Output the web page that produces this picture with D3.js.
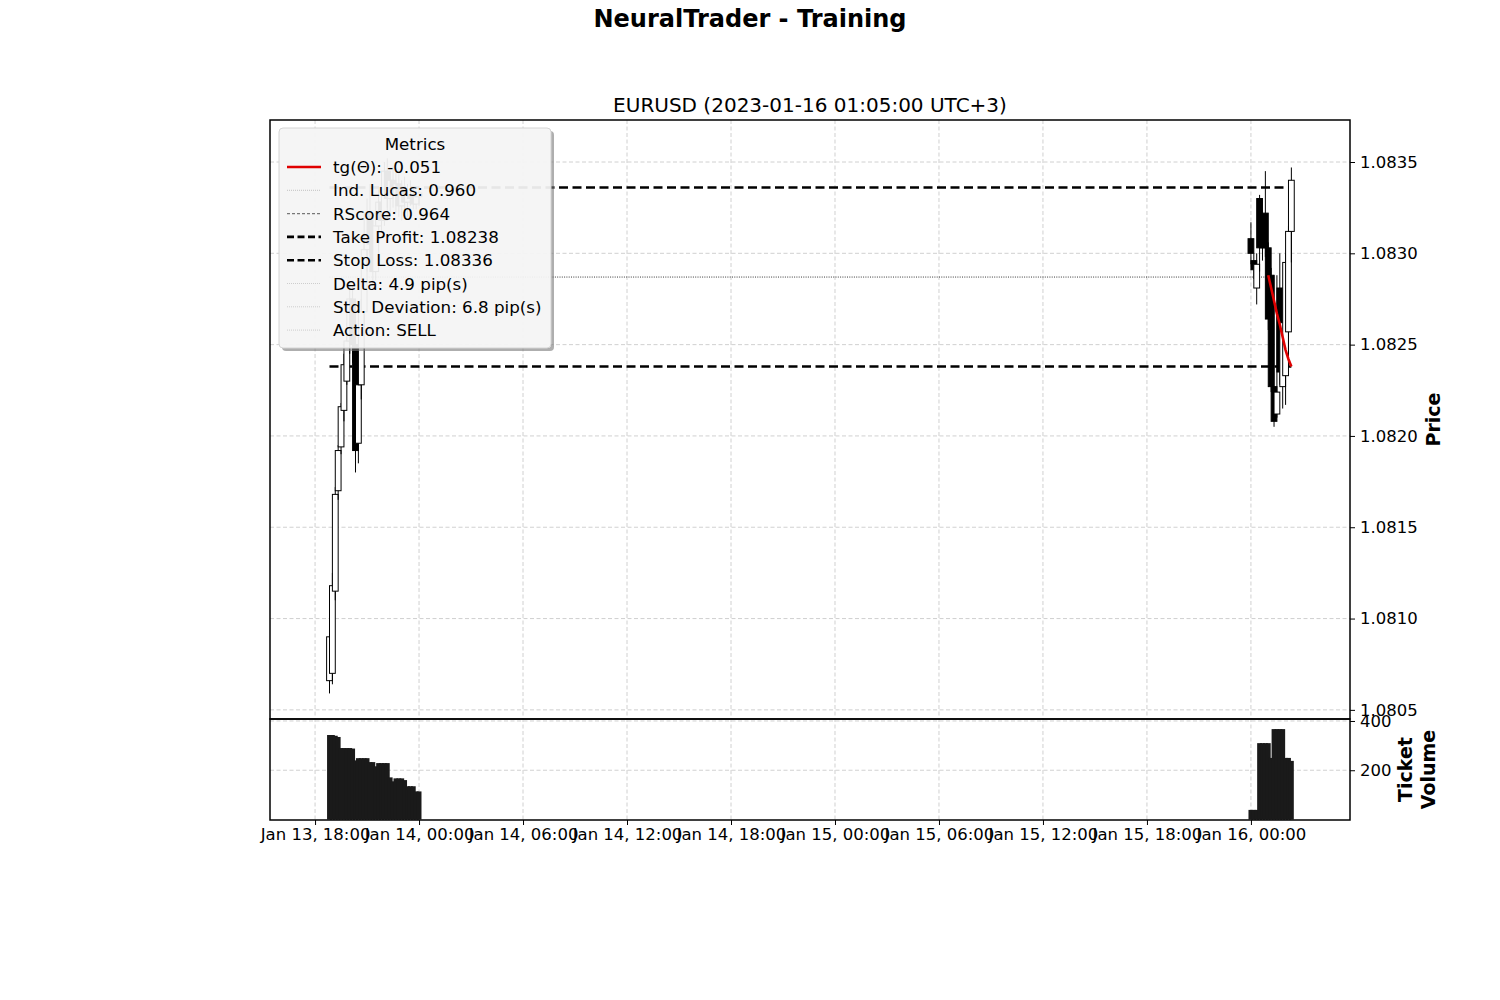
<!DOCTYPE html>
<html><head><meta charset="utf-8">
<script src="https://cdn.jsdelivr.net/npm/d3@7"></script>
<style>body{margin:0;background:#fff;} svg{font-family:"DejaVu Sans",sans-serif;}</style>
</head><body><svg id="c" width="1500" height="1000"></svg>
<script>
// ---------- data ----------
const times = [
 "2023-01-13T18:50","2023-01-13T19:00","2023-01-13T19:10","2023-01-13T19:20","2023-01-13T19:30","2023-01-13T19:40",
 "2023-01-13T19:50","2023-01-13T20:00","2023-01-13T20:10","2023-01-13T20:20","2023-01-13T20:30","2023-01-13T20:40",
 "2023-01-13T20:50","2023-01-13T21:00","2023-01-13T21:10","2023-01-13T21:20","2023-01-13T21:30","2023-01-13T21:40",
 "2023-01-13T21:50","2023-01-13T22:00","2023-01-13T22:10","2023-01-13T22:20","2023-01-13T22:30","2023-01-13T22:40",
 "2023-01-13T22:50","2023-01-13T23:00","2023-01-13T23:10","2023-01-13T23:20","2023-01-13T23:30","2023-01-13T23:40",
 "2023-01-13T23:50","2023-01-14T00:00",
 "2023-01-16T00:00","2023-01-16T00:10","2023-01-16T00:20","2023-01-16T00:30","2023-01-16T00:40","2023-01-16T00:50",
 "2023-01-16T01:00","2023-01-16T01:10","2023-01-16T01:20","2023-01-16T01:30","2023-01-16T01:40","2023-01-16T01:50",
 "2023-01-16T02:00","2023-01-16T02:10","2023-01-16T02:20"
];
const opens = [
 1.08066,1.08070,1.08115,1.08170,1.08194,1.08214,1.08230,1.08252,1.08275,1.08250,1.08196,1.08228,
 1.08268,1.08302,1.08322,1.08305,1.08290,1.08315,1.08328,1.08318,1.08345,1.08330,1.08340,1.08332,
 1.08338,1.08326,1.08335,1.08328,1.08332,1.08330,1.08327,1.08331,
 1.08308,1.08296,1.08281,1.08330,1.08314,1.08322,1.08303,1.08288,1.08227,1.08212,1.08281,1.08227,
 1.08233,1.08257,1.08312
];
const highs = [
 1.08097,1.08125,1.08172,1.08195,1.08218,1.08245,1.08262,1.08285,1.08282,1.08255,1.08235,1.08275,
 1.08310,1.08330,1.08338,1.08318,1.08320,1.08335,1.08342,1.08350,1.08352,1.08345,1.08348,1.08345,
 1.08346,1.08340,1.08342,1.08338,1.08340,1.08336,1.08334,1.08336,
 1.08317,1.08300,1.08300,1.08332,1.08320,1.08345,1.08306,1.08292,1.08288,1.08288,1.08300,1.08270,
 1.08300,1.08315,1.08347
];
const lows = [
 1.08059,1.08064,1.08110,1.08165,1.08190,1.08208,1.08228,1.08245,1.08240,1.08180,1.08185,1.08220,
 1.08260,1.08290,1.08300,1.08282,1.08285,1.08305,1.08312,1.08315,1.08325,1.08320,1.08325,1.08322,
 1.08320,1.08318,1.08322,1.08320,1.08326,1.08324,1.08324,1.08326,
 1.08294,1.08286,1.08272,1.08290,1.08296,1.08298,1.08258,1.08224,1.08205,1.08210,1.08228,1.08215,
 1.08217,1.08240,1.08295
];
const closes = [
 1.08090,1.08118,1.08168,1.08192,1.08216,1.08239,1.08252,1.08275,1.08250,1.08192,1.08228,1.08268,
 1.08302,1.08322,1.08305,1.08290,1.08315,1.08328,1.08318,1.08345,1.08330,1.08340,1.08332,1.08338,
 1.08326,1.08335,1.08328,1.08332,1.08330,1.08327,1.08331,1.08333,
 1.08300,1.08291,1.08294,1.08303,1.08303,1.08303,1.08264,1.08227,1.08208,1.08224,1.08235,1.08262,
 1.08295,1.08312,1.08340
];
const volumes = [
 343,343,340,335,290,290,290,290,288,240,249,249,
 249,249,233,233,216,229,229,229,229,171,155,167,
 167,167,160,135,135,135,114,114,
 39,39,39,310,310,310,310,250,367,367,367,367,
 250,250,238
];
const trendTimes = ["2023-01-16T01:00","2023-01-16T01:10","2023-01-16T01:20","2023-01-16T01:30","2023-01-16T01:40",
 "2023-01-16T01:50","2023-01-16T02:00","2023-01-16T02:10","2023-01-16T02:20"];
const trendValues = [1.08288,1.08281,1.08274,1.08267,1.08261,1.08254,1.08247,1.08242,1.08238];
const takeProfit = 1.08238, stopLoss = 1.08336, lucasLevel = 1.08287, lucasEnd = "2023-01-16T01:00";
const priceTicks = [1.0805,1.0810,1.0815,1.0820,1.0825,1.0830,1.0835];
const volumeTicks = [200,400];
const xDomain = ["2023-01-13T15:24","2023-01-16T05:43"];
const priceDomain = [1.08045,1.08373];
const volumeDomain = [0,408];
const legendItems = [
 {label:"tg(\u0398): -0.051", color:"#e00000", width:2.6, dash:null},
 {label:"Ind. Lucas: 0.960", color:"#aaaaaa", width:0.7, dash:"1,1"},
 {label:"RScore: 0.964", color:"#777777", width:1.1, dash:"3,2"},
 {label:"Take Profit: 1.08238", color:"#000", width:2.6, dash:"7,3.5"},
 {label:"Stop Loss: 1.08336", color:"#000", width:2.6, dash:"7,3.5"},
 {label:"Delta: 4.9 pip(s)", color:"#bbbbbb", width:0.7, dash:"1,1"},
 {label:"Std. Deviation: 6.8 pip(s)", color:"#bbbbbb", width:0.7, dash:"1,1"},
 {label:"Action: SELL", color:"#bbbbbb", width:0.7, dash:"1,1"}
];

// ---------- setup ----------
const P = s => new Date(s + ":00Z");
const svg = d3.select("#c");
const L = 270, R = 1350, T = 120, MID = 719, B = 820;
const x = d3.scaleUtc().domain(xDomain.map(P)).range([L, R]);
const y = d3.scaleLinear().domain(priceDomain).range([MID, T]);
const yv = d3.scaleLinear().domain(volumeDomain).range([819.5, MID]);
const data = times.map((t,i)=>({t:P(t), o:opens[i], h:highs[i], l:lows[i], c:closes[i], v:volumes[i]}));
const xTicks = x.ticks(d3.utcHour.every(6));
const gridStyle = s => s.attr("stroke","#c4c4c4").attr("stroke-width",0.8).attr("stroke-dasharray","4,2.5");

// grids
const g = svg.append("g");
g.selectAll(".vg").data(xTicks).join("line").attr("x1",d=>x(d)).attr("x2",d=>x(d)).attr("y1",T).attr("y2",B).call(gridStyle);
g.selectAll(".hg").data(priceTicks).join("line").attr("x1",L).attr("x2",R).attr("y1",d=>y(d)).attr("y2",d=>y(d)).call(gridStyle);
g.selectAll(".vh").data(volumeTicks).join("line").attr("x1",L).attr("x2",R).attr("y1",d=>yv(d)).attr("y2",d=>yv(d)).call(gridStyle);

// clip
const defs = svg.append("defs");
defs.append("clipPath").attr("id","cp").append("rect").attr("x",L).attr("y",T).attr("width",R-L).attr("height",MID-T);
defs.append("clipPath").attr("id","cv").append("rect").attr("x",L).attr("y",MID).attr("width",R-L).attr("height",B-MID);
const pg = svg.append("g").attr("clip-path","url(#cp)");
const vg = svg.append("g").attr("clip-path","url(#cv)");

// level lines
const t0 = data[0].t, t1 = data[data.length-1].t;
[takeProfit, stopLoss].forEach(v=>{
  pg.append("line").attr("x1",x(t0)).attr("x2",x(t1)).attr("y1",y(v)).attr("y2",y(v))
    .attr("stroke","#000").attr("stroke-width",2.5).attr("stroke-dasharray","9,4.5");
});
pg.append("line").attr("x1",x(t0)).attr("x2",x(P(lucasEnd))).attr("y1",y(lucasLevel)).attr("y2",y(lucasLevel))
  .attr("stroke","#222").attr("stroke-width",0.9).attr("stroke-dasharray","1,1.3");

// candles
const bw = x(P("2023-01-13T00:20")) - x(P("2023-01-13T00:00"));
const cg = pg.selectAll(".cd").data(data).join("g");
cg.append("line").attr("x1",d=>x(d.t)).attr("x2",d=>x(d.t)).attr("y1",d=>y(d.h)).attr("y2",d=>y(d.l))
  .attr("stroke","#000").attr("stroke-width",1);
cg.append("rect").attr("x",d=>x(d.t)-bw/2).attr("width",bw)
  .attr("y",d=>y(Math.max(d.o,d.c))).attr("height",d=>Math.max(1,Math.abs(y(d.o)-y(d.c))))
  .attr("fill",d=>d.c>=d.o?"#fff":"#000").attr("stroke","#000").attr("stroke-width",1);

// trend line
pg.append("path").datum(trendTimes.map((t,i)=>[P(t),trendValues[i]]))
  .attr("d",d3.line().x(d=>x(d[0])).y(d=>y(d[1]))).attr("fill","none").attr("stroke","#e00000").attr("stroke-width",2.6);

// volume bars
const vw = x(P("2023-01-13T00:10")) - x(P("2023-01-13T00:00"));
vg.selectAll(".vb").data(data).join("rect").attr("x",d=>x(d.t)-vw/2-1).attr("width",vw+2)
  .attr("y",d=>yv(d.v)).attr("height",d=>yv(0)-yv(d.v)).attr("fill","#1a1a1a");

// frames
svg.append("rect").attr("x",L).attr("y",T).attr("width",R-L).attr("height",MID-T).attr("fill","none").attr("stroke","#000").attr("stroke-width",1.5);
svg.append("rect").attr("x",L).attr("y",MID).attr("width",R-L).attr("height",B-MID).attr("fill","none").attr("stroke","#000").attr("stroke-width",1.5);

// axes
const fs = "16.5px";
const ay = svg.append("g").attr("transform",`translate(${R},0)`)
  .call(d3.axisRight(y).tickValues(priceTicks).tickFormat(d3.format(".4f")).tickSize(5).tickPadding(5));
const av = svg.append("g").attr("transform",`translate(${R},0)`)
  .call(d3.axisRight(yv).tickValues(volumeTicks).tickFormat(d3.format("d")).tickSize(5).tickPadding(5));
const ax = svg.append("g").attr("transform",`translate(0,${B})`)
  .call(d3.axisBottom(x).tickValues(xTicks).tickFormat(d3.utcFormat("%b %d, %H:%M")).tickSize(5).tickPadding(3));
[ay,av,ax].forEach(a=>{
  a.select(".domain").remove();
  a.selectAll("text").attr("font-size",fs).attr("font-family","DejaVu Sans").attr("fill","#000");
  a.selectAll("line").attr("stroke","#000").attr("stroke-width",1);
});

// titles
svg.append("text").attr("x",750).attr("y",27).attr("text-anchor","middle").attr("font-size","24px").attr("font-weight","bold").text("NeuralTrader - Training");
svg.append("text").attr("x",(L+R)/2).attr("y",112).attr("text-anchor","middle").attr("font-size","20px").text("EURUSD (2023-01-16 01:05:00 UTC+3)");
svg.append("text").attr("transform",`translate(1440,${(T+MID)/2}) rotate(-90)`).attr("text-anchor","middle")
  .attr("font-size","19px").attr("font-weight","bold").text("Price");
const vl = svg.append("text").attr("transform",`translate(1412,${(MID+B)/2}) rotate(-90)`).attr("text-anchor","middle")
  .attr("font-size","19px").attr("font-weight","bold");
vl.append("tspan").attr("x",0).attr("dy",0).text("Ticket");
vl.append("tspan").attr("x",0).attr("dy","1.2em").text("Volume");

// legend
const lx = 279, ly = 128, lw = 272, lh = 220;
const mask = defs.append("mask").attr("id","shm");
mask.append("rect").attr("x",0).attr("y",0).attr("width",1500).attr("height",1000).attr("fill","#fff");
mask.append("rect").attr("x",lx).attr("y",ly).attr("width",lw).attr("height",lh).attr("rx",4).attr("fill","#000");
const lg = svg.append("g");
lg.append("rect").attr("x",lx+3).attr("y",ly+3).attr("width",lw).attr("height",lh).attr("rx",4)
  .attr("fill","#7a7a7a").attr("opacity",0.6).attr("mask","url(#shm)");
lg.append("rect").attr("x",lx).attr("y",ly).attr("width",lw).attr("height",lh).attr("rx",4)
  .attr("fill","#f4f4f4").attr("fill-opacity",0.94).attr("stroke","#d4d4d4").attr("stroke-width",1);
lg.append("text").attr("x",lx+lw/2).attr("y",ly+22).attr("text-anchor","middle").attr("font-size","16.7px").text("Metrics");
legendItems.forEach((it,i)=>{
  const yy = 167 + i*23.3;
  lg.append("line").attr("x1",287).attr("x2",321).attr("y1",yy).attr("y2",yy)
    .attr("stroke",it.color).attr("stroke-width",it.width).attr("stroke-dasharray",it.dash);
  lg.append("text").attr("x",333).attr("y",yy+6).attr("font-size","16.7px").text(it.label);
});
</script></body></html>
